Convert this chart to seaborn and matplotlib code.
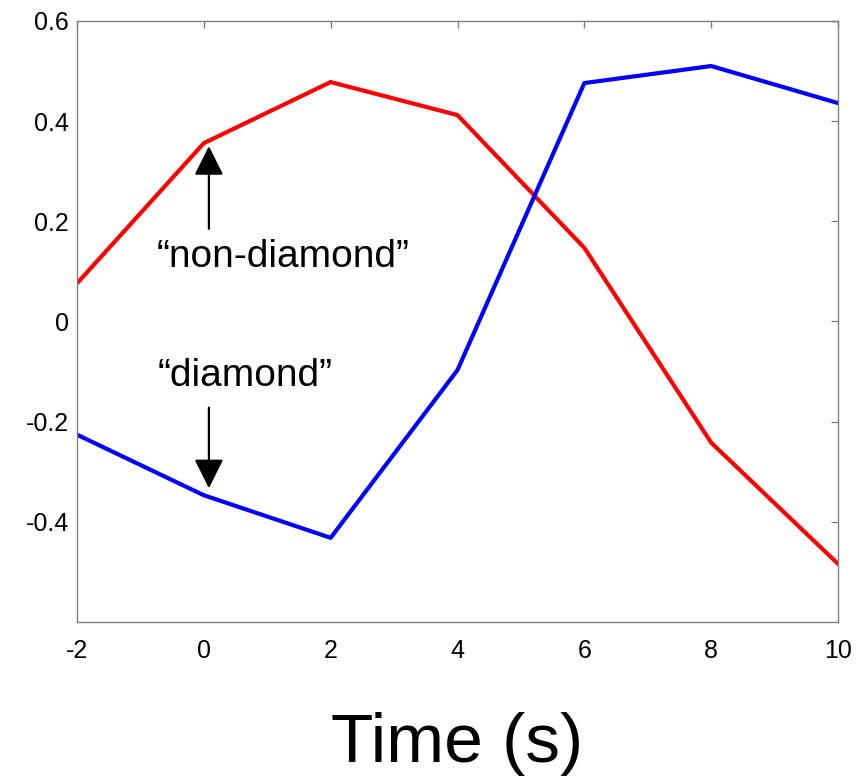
import matplotlib
matplotlib.use("Agg")
import matplotlib.pyplot as plt
import seaborn as sns
import pandas as pd

time_s = [-2, 0, 2, 4, 6, 8, 10]
non_diamond = [0.076, 0.356, 0.478, 0.412, 0.147, -0.242, -0.484]
diamond = [-0.226, -0.347, -0.432, -0.097, 0.476, 0.510, 0.436]
xticks = [-2, 0, 2, 4, 6, 8, 10]
yticks = [-0.4, -0.2, 0, 0.2, 0.4, 0.6]
ytick_labels = ["-0.4", "-0.2", "0", "0.2", "0.4", "0.6"]

sns.set_theme(style="white")
plt.rcParams['font.family'] = ['Liberation Sans', 'DejaVu Sans']
plt.rcParams['text.color'] = 'black'

df = pd.DataFrame({
    "time": time_s * 2,
    "value": non_diamond + diamond,
    "series": ["non-diamond"] * len(time_s) + ["diamond"] * len(time_s),
})

fig = plt.figure(figsize=(8.66, 7.76), dpi=100)
ax = fig.add_axes([0.0889, 0.1985, 0.8788, 0.7745])
sns.lineplot(data=df, x="time", y="value", hue="series",
             palette={"non-diamond": "#ff0000", "diamond": "#0000ff"},
             linewidth=3.0, legend=False, ax=ax, sort=False)

ax.set_xlim(-2, 10)
ax.set_ylim(-0.6, 0.6)
ax.set_xticks(xticks)
ax.set_xticklabels([str(t) for t in xticks])
ax.set_yticks(yticks)
ax.set_yticklabels(ytick_labels)
for s in ax.spines.values():
    s.set_color("#808080")
    s.set_linewidth(1.0)
ax.tick_params(direction="in", length=5, width=1, color="#808080",
               top=True, right=True, labelsize=18, labelcolor="black")
ax.tick_params(axis="x", pad=12)
ax.tick_params(axis="y", pad=6)
ax.set_xlabel("")
ax.set_ylabel("")

fig.text(0.528, 0.018, "Time (s)", fontsize=50, ha="center", va="baseline",
         color="black")

arrowprops = dict(arrowstyle="-|>,head_width=0.9,head_length=1.8",
                  mutation_scale=10, color="black", lw=1.6,
                  shrinkA=0, shrinkB=0)
ax.annotate("", xy=(0.08, 0.35), xytext=(0.08, 0.185), arrowprops=arrowprops)
ax.annotate("", xy=(0.08, -0.333), xytext=(0.08, -0.172), arrowprops=arrowprops)
ax.text(1.25, 0.128, "\u201cnon-diamond\u201d", fontsize=28, ha="center",
        va="center", color="black")
ax.text(0.65, -0.108, "\u201cdiamond\u201d", fontsize=28, ha="center",
        va="center", color="black")

fig.savefig("out.png", dpi=100, facecolor="white")
